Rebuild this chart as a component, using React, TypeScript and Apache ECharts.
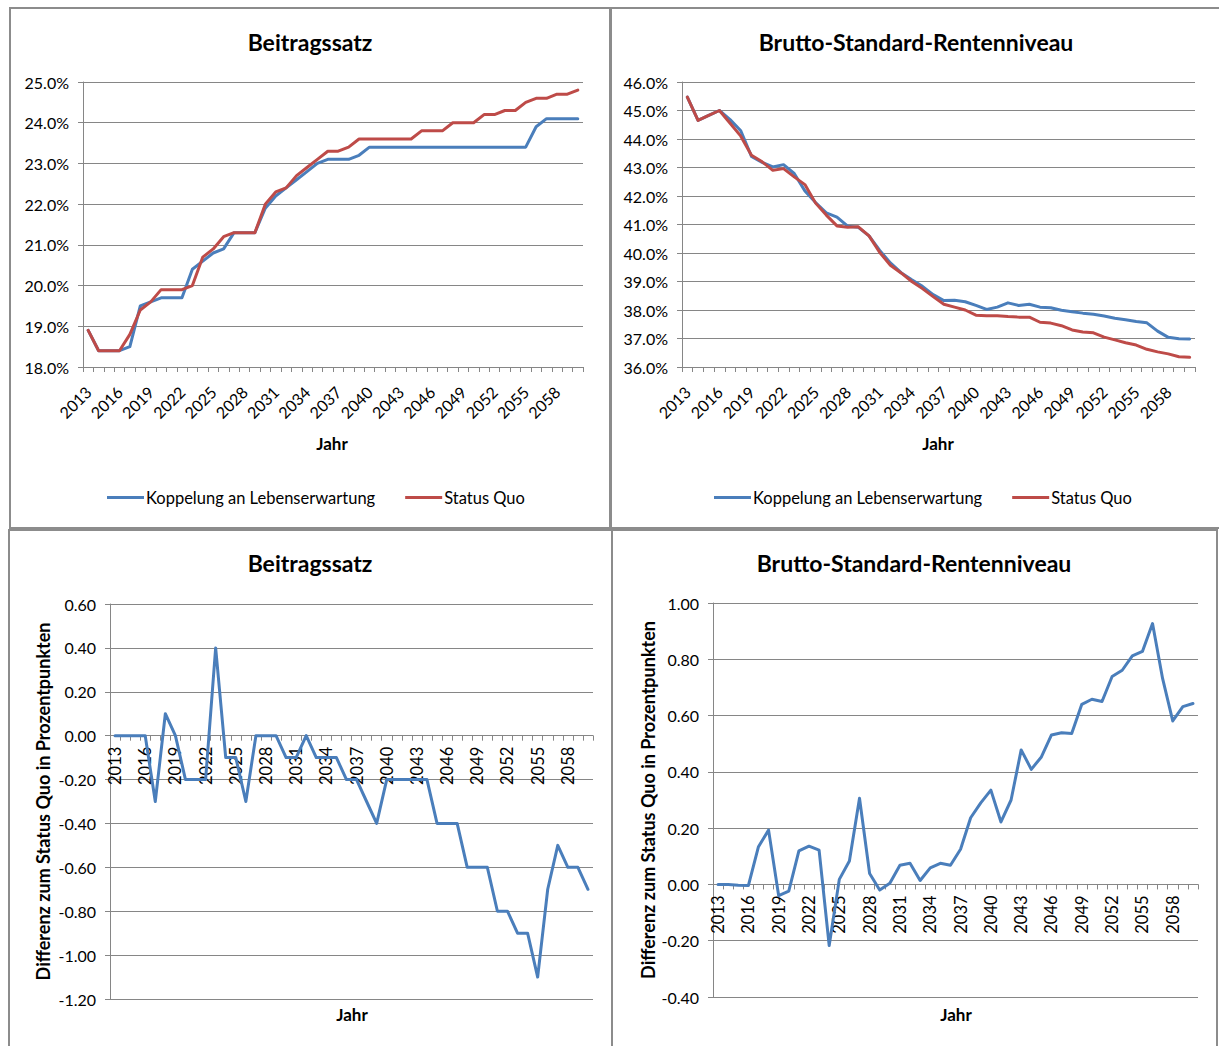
import React, { useEffect, useRef } from "react";
import * as echarts from "echarts";

const years = [
  "2013", "2014", "2015", "2016", "2017", "2018", "2019", "2020", "2021", "2022",
  "2023", "2024", "2025", "2026", "2027", "2028", "2029", "2030", "2031", "2032",
  "2033", "2034", "2035", "2036", "2037", "2038", "2039", "2040", "2041", "2042",
  "2043", "2044", "2045", "2046", "2047", "2048", "2049", "2050", "2051", "2052",
  "2053", "2054", "2055", "2056", "2057", "2058", "2059", "2060",
];

const SERIES_A = "Koppelung an Lebenserwartung";
const SERIES_B = "Status Quo";

// Beitragssatz in %
const beitragKoppelung = [
  18.9, 18.4, 18.4, 18.4, 18.5, 19.5, 19.6, 19.7, 19.7, 19.7,
  20.4, 20.6, 20.8, 20.9, 21.3, 21.3, 21.3, 21.9, 22.2, 22.4,
  22.6, 22.8, 23.0, 23.1, 23.1, 23.1, 23.2, 23.4, 23.4, 23.4,
  23.4, 23.4, 23.4, 23.4, 23.4, 23.4, 23.4, 23.4, 23.4, 23.4,
  23.4, 23.4, 23.4, 23.9, 24.1, 24.1, 24.1, 24.1,
];
const beitragStatusQuo = [
  18.9, 18.4, 18.4, 18.4, 18.8, 19.4, 19.6, 19.9, 19.9, 19.9,
  20.0, 20.7, 20.9, 21.2, 21.3, 21.3, 21.3, 22.0, 22.3, 22.4,
  22.7, 22.9, 23.1, 23.3, 23.3, 23.4, 23.6, 23.6, 23.6, 23.6,
  23.6, 23.6, 23.8, 23.8, 23.8, 24.0, 24.0, 24.0, 24.2, 24.2,
  24.3, 24.3, 24.5, 24.6, 24.6, 24.7, 24.7, 24.8,
];

// Brutto-Standard-Rentenniveau in %
const renteKoppelung = [
  45.47, 44.65, 44.83, 45.0, 44.68, 44.29, 43.39, 43.18, 43.02, 43.1,
  42.79, 42.18, 41.77, 41.41, 41.26, 40.94, 40.9, 40.6, 40.09, 39.65,
  39.31, 39.06, 38.83, 38.54, 38.33, 38.34, 38.29, 38.16, 38.02, 38.1,
  38.25, 38.16, 38.2, 38.1, 38.08, 37.99, 37.94, 37.89, 37.85, 37.79,
  37.71, 37.66, 37.6, 37.55, 37.26, 37.04, 36.99, 36.98,
];
const renteStatusQuo = [
  45.47, 44.65, 44.83, 45.0, 44.55, 44.1, 43.43, 43.2, 42.9, 42.96,
  42.67, 42.4, 41.75, 41.33, 40.95, 40.9, 40.92, 40.6, 40.02, 39.57,
  39.3, 39.0, 38.75, 38.47, 38.2, 38.1, 38.0, 37.82, 37.8, 37.8,
  37.77, 37.75, 37.75, 37.57, 37.54, 37.45, 37.3, 37.23, 37.2, 37.05,
  36.95, 36.85, 36.77, 36.62, 36.53, 36.46, 36.36, 36.34,
];

// Differenz zum Status Quo in Prozentpunkten
const diffBeitrag = [
  0, 0, 0, 0, -0.3, 0.1, 0, -0.2, -0.2, -0.2,
  0.4, -0.1, -0.1, -0.3, 0, 0, 0, -0.1, -0.1, 0,
  -0.1, -0.1, -0.1, -0.2, -0.2, -0.3, -0.4, -0.2, -0.2, -0.2,
  -0.2, -0.2, -0.4, -0.4, -0.4, -0.6, -0.6, -0.6, -0.8, -0.8,
  -0.9, -0.9, -1.1, -0.7, -0.5, -0.6, -0.6, -0.7,
];
const diffRente = [
  0.0, 0.0, -0.003, -0.004, 0.134, 0.193, -0.04, -0.024, 0.119, 0.136,
  0.122, -0.217, 0.018, 0.083, 0.306, 0.039, -0.02, 0.004, 0.068, 0.075,
  0.014, 0.059, 0.075, 0.068, 0.125, 0.237, 0.29, 0.335, 0.222, 0.3,
  0.478, 0.409, 0.453, 0.531, 0.539, 0.536, 0.64, 0.658, 0.65, 0.739,
  0.761, 0.812, 0.828, 0.927, 0.731, 0.581, 0.632, 0.643,
];

const TITLE_LEFT = "Beitragssatz";
const TITLE_RIGHT = "Brutto-Standard-Rentenniveau";
const X_NAME = "Jahr";
const Y_NAME_DIFF = "Differenz zum Status Quo in Prozentpunkten";

const FONT = "Lato, 'Open Sans', sans-serif";
const GRAY = "#868686";
const BORDER = "#8c8c8c";
const BLUE = "#4a7ebb";
const RED = "#be4b48";
const TEXT = "#000000";

// grid geometry (layout only)
const G = [
  { left: 83, top: 82, width: 500, height: 285 },
  { left: 682, top: 82, width: 513, height: 285 },
  { left: 110, top: 604, width: 483, height: 395 },
  { left: 713, top: 603, width: 485, height: 394 },
];
const Y_RANGES = [
  { min: 18, max: 25, interval: 1 },
  { min: 36, max: 46, interval: 1 },
  { min: -1.2, max: 0.6, interval: 0.2 },
  { min: -0.4, max: 1.0, interval: 0.2 },
];

// offset that lifts a bottom category axis up to the value 0 of its grid
function zeroOffset(i: number) {
  const g = G[i];
  const r = Y_RANGES[i];
  return -(g.height * (0 - r.min)) / (r.max - r.min);
}

function xAxis(gridIndex: number, rotate: number, margin: number, offset: number, fontSize: number) {
  return {
    type: "category",
    gridIndex,
    data: years,
    boundaryGap: true,
    offset,
    axisLine: { show: true, onZero: false, lineStyle: { color: GRAY, width: 1 } },
    axisTick: { show: true, interval: 0, length: 5, alignWithLabel: false, lineStyle: { color: GRAY } },
    axisLabel: { interval: 2, rotate, margin, fontFamily: FONT, fontSize, color: TEXT },
    splitLine: { show: false },
  };
}

function yAxis(i: number, fmt: (v: number) => string, name?: string, nameGap?: number) {
  const r = Y_RANGES[i];
  return {
    type: "value",
    gridIndex: i,
    min: r.min,
    max: r.max,
    interval: r.interval,
    name: name || "",
    nameLocation: "middle",
    nameGap: nameGap || 0,
    nameTextStyle: { fontFamily: FONT, fontWeight: "bold", fontSize: 18, color: TEXT },
    axisLine: { show: true, lineStyle: { color: GRAY, width: 1 } },
    axisTick: { show: true, length: 5, lineStyle: { color: GRAY } },
    axisLabel: { formatter: fmt, margin: 14, fontFamily: FONT, fontSize: 16, color: TEXT },
    splitLine: { show: true, lineStyle: { color: GRAY, width: 1 } },
  };
}

function line(name: string, data: number[], color: string, idx: number) {
  return {
    type: "line",
    name,
    data,
    xAxisIndex: idx,
    yAxisIndex: idx,
    showSymbol: false,
    symbol: "none",
    smooth: false,
    color,
    lineStyle: { color, width: 3, cap: "round", join: "round" },
  };
}

function text(str: string, x: number, y: number, size: number, bold: boolean) {
  return {
    type: "text",
    x,
    y,
    style: {
      text: str,
      fill: TEXT,
      font: `${bold ? "bold " : ""}${size}px ${FONT}`,
      align: "center",
      verticalAlign: "middle",
    },
  };
}

function border(x: number, y: number, w: number, h: number) {
  return {
    type: "rect",
    shape: { x, y, width: w, height: h },
    style: { fill: "none", stroke: BORDER, lineWidth: 2 },
    silent: true,
  };
}

const pct = (v: number) => v.toFixed(1) + "%";
const dec = (v: number) => v.toFixed(2);

function legend(left: number) {
  return {
    left,
    top: 484,
    data: [SERIES_A, SERIES_B],
    icon: "rect",
    itemWidth: 37,
    itemHeight: 3,
    itemGap: 30,
    textStyle: { fontFamily: FONT, fontSize: 16.5, color: TEXT, padding: [0, 0, 0, -3] },
  };
}

const option = {
  animation: false,
  backgroundColor: "#ffffff",
  grid: G,
  xAxis: [
    xAxis(0, 45, 22, 0, 16),
    xAxis(1, 45, 22, 0, 16),
    xAxis(2, 90, 11, zeroOffset(2), 16.5),
    xAxis(3, 90, 11, zeroOffset(3), 16.5),
  ],
  yAxis: [
    yAxis(0, pct),
    yAxis(1, pct),
    yAxis(2, dec, Y_NAME_DIFF, 58),
    yAxis(3, dec, Y_NAME_DIFF, 56),
  ],
  legend: [legend(102), legend(709)],
  series: [
    line(SERIES_A, beitragKoppelung, BLUE, 0),
    line(SERIES_B, beitragStatusQuo, RED, 0),
    line(SERIES_A, renteKoppelung, BLUE, 1),
    line(SERIES_B, renteStatusQuo, RED, 1),
    line("Differenz Beitragssatz", diffBeitrag, BLUE, 2),
    line("Differenz Rentenniveau", diffRente, BLUE, 3),
  ],
  graphic: [
    border(10, 8, 600, 520),
    border(611, 8, 612, 520),
    border(9, 530, 603, 520),
    border(612, 530, 605, 520),
    text(TITLE_LEFT, 310, 42, 23, true),
    text(TITLE_RIGHT, 916, 42, 23, true),
    text(TITLE_LEFT, 310, 563, 23, true),
    text(TITLE_RIGHT, 914, 563, 23, true),
    text(X_NAME, 332, 443, 17, true),
    text(X_NAME, 938, 443, 17, true),
    text(X_NAME, 352, 1014, 17, true),
    text(X_NAME, 956, 1014, 17, true),
  ],
};

export default function App() {
  const ref = useRef<HTMLDivElement>(null);
  useEffect(() => {
    if (!ref.current) return;
    const chart = echarts.init(ref.current, null, { renderer: "svg" });
    chart.setOption(option as any);
    return () => chart.dispose();
  }, []);
  return (
    <div
      ref={ref}
      style={{ position: "absolute", left: 0, top: 0, width: 1219, height: 1046, background: "#fff" }}
    />
  );
}
